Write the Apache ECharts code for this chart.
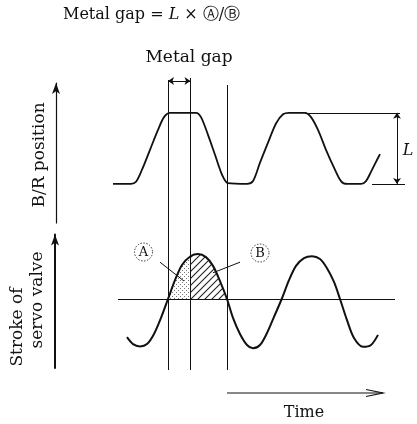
<!DOCTYPE html>
<html>
<head>
<meta charset="utf-8">
<script src="https://cdn.jsdelivr.net/npm/echarts@6/dist/echarts.min.js"></script>
<style>
  html, body { margin: 0; padding: 0; background: #fff; }
  #chart { width: 417px; height: 424px; }
</style>
</head>
<body>
<div id="chart"></div>
<script>
// time runs 0..300 on a shared (hidden) axis
const brTime = [3, 21, 26, 32, 40, 48, 54, 60, 86, 91, 98, 105, 112, 118, 137, 143, 150, 158, 166, 173, 179, 195, 201, 208, 216, 224, 231, 237, 251, 256, 261, 266, 270];
const brPos  = [0, 0, 0.3, 2.0, 4.8, 7.6, 9.4, 10, 10, 9.4, 6.9, 4.1, 1.3, 0.1, 0, 0.4, 3.0, 5.8, 8.5, 9.8, 10, 10, 9.4, 7.6, 4.8, 2.3, 0.4, 0, 0, 0.4, 1.7, 3.1, 4.2];

const svTime   = [17, 23, 30, 37, 44, 51, 58, 65, 72, 80.5, 88, 96, 103, 110, 117, 123, 130, 137, 143, 150, 157, 164, 171.7, 179, 186, 194, 202, 210, 217, 224, 230, 237, 244, 253, 261, 268];
const svStroke = [-8.3, -9.8, -10.3, -9.8, -7.6, -4.1, 0, 4.1, 7.4, 9.3, 9.8, 9.1, 7.2, 3.9, 0, -4.1, -7.6, -10.0, -10.7, -10.0, -7.4, -3.9, 0, 4.1, 7.2, 8.9, 9.3, 8.7, 6.7, 3.7, 0, -4.6, -8.5, -10.4, -10.0, -7.8];

// vertical guide lines (time) and how far up they reach (fraction of height)
const gapTimes = [58, 80.5, 117];
const gapTops = [0.993, 1, 0.976];
const gapArrowLevel = 0.99;

// region A: first zero crossing -> middle line, region B: middle line -> next crossing
const areaA = [58, 80.5];
const areaB = [80.5, 117];

// annotations
const zeroLine = [8, 285];
const lTopLine = [195, 290];
const lBottomLine = [262, 295];
const lArrowTime = 287;
const lLow = 0, lHigh = 10;
const leaderA = [[50, 8.0], [74, 3.9]];
const leaderB = [[130, 8.0], [103, 5.7]];

const serif = '"DejaVu Serif", "Liberation Serif", serif';
const ink = '#111';

const brData = brTime.map((t, i) => [t, brPos[i]]);
const svData = svTime.map((t, i) => [t, svStroke[i]]);
const sliceSv = (r) => svData.filter(d => d[0] >= r[0] && d[0] <= r[1]);

function makePattern(kind) {
  const c = document.createElement('canvas');
  const ctx = c.getContext('2d');
  if (kind === 'dots') {
    c.width = 4; c.height = 4;
    ctx.fillStyle = '#777';
    ctx.fillRect(0, 0, 1, 1);
    ctx.fillRect(2, 2, 1, 1);
  } else {
    c.width = 7; c.height = 7;
    ctx.strokeStyle = '#222';
    ctx.lineWidth = 1.1;
    ctx.beginPath();
    ctx.moveTo(-1, 8); ctx.lineTo(8, -1);
    ctx.moveTo(-1, 1); ctx.lineTo(1, -1);
    ctx.moveTo(6, 8); ctx.lineTo(8, 6);
    ctx.stroke();
  }
  return { image: c, repeat: 'repeat' };
}

const plainLine = (color, width) => ({ color: color, width: width, type: 'solid' });
const mark = (pairs, width) => ({
  silent: true,
  symbol: 'none',
  animation: false,
  label: { show: false },
  emphasis: { disabled: true },
  lineStyle: plainLine(ink, width),
  data: pairs.map(p => [{ coord: p[0] }, { coord: p[1] }])
});

const myChart = echarts.init(document.getElementById('chart'));

const option = {
  animation: false,
  grid: [
    { left: 110, right: 7, top: 83, height: 140 },
    { left: 110, right: 7, top: 234.6, height: 133.4 },
    { left: 110, right: 7, top: 78, height: 292 }
  ],
  xAxis: [0, 1, 2].map(i => ({ type: 'value', gridIndex: i, min: 0, max: 300, show: false })),
  yAxis: [
    {
      type: 'value', gridIndex: 0, min: -5.5, max: 14.2, offset: 54,
      axisLine: { show: true, onZero: false, symbol: ['none', 'arrow'], symbolSize: [6, 11], lineStyle: { color: ink, width: 1.2 } },
      axisTick: { show: false }, axisLabel: { show: false }, splitLine: { show: false }
    },
    {
      type: 'value', gridIndex: 1, min: -15, max: 14, offset: 55,
      axisLine: { show: true, onZero: false, symbol: ['none', 'arrow'], symbolSize: [6, 11], lineStyle: { color: ink, width: 2 } },
      axisTick: { show: false }, axisLabel: { show: false }, splitLine: { show: false }
    },
    { type: 'value', gridIndex: 2, min: 0, max: 1, show: false }
  ],
  series: [
    {
      name: 'B/R position',
      type: 'line', xAxisIndex: 0, yAxisIndex: 0,
      data: brData, smooth: 0.3, symbol: 'none', clip: false,
      lineStyle: { color: ink, width: 1.8 },
      markLine: mark([
        [[lTopLine[0], lHigh], [lTopLine[1], lHigh]],
        [[lBottomLine[0], lLow], [lBottomLine[1], lLow]]
      ], 1)
    },
    {
      name: 'L arrow',
      type: 'line', xAxisIndex: 0, yAxisIndex: 0,
      data: [], symbol: 'none',
      markLine: Object.assign(mark([[[lArrowTime, lLow], [lArrowTime, lHigh]]], 1), { symbol: ['arrow', 'arrow'], symbolSize: 6 })
    },
    {
      name: 'A',
      type: 'line', xAxisIndex: 1, yAxisIndex: 1,
      data: sliceSv(areaA), smooth: 0.3, symbol: 'none',
      lineStyle: { width: 0 },
      areaStyle: { color: makePattern('dots'), opacity: 1 },
      z: 1
    },
    {
      name: 'B',
      type: 'line', xAxisIndex: 1, yAxisIndex: 1,
      data: sliceSv(areaB), smooth: 0.3, symbol: 'none',
      lineStyle: { width: 0 },
      areaStyle: { color: makePattern('hatch'), opacity: 1 },
      z: 1
    },
    {
      name: 'Stroke of servo valve',
      type: 'line', xAxisIndex: 1, yAxisIndex: 1,
      data: svData, smooth: 0.3, symbol: 'none', clip: false,
      lineStyle: { color: ink, width: 2 },
      z: 3,
      markLine: mark([
        [[zeroLine[0], 0], [zeroLine[1], 0]],
        leaderA,
        leaderB
      ], 1)
    },
    {
      name: 'guides',
      type: 'line', xAxisIndex: 2, yAxisIndex: 2,
      data: [], symbol: 'none',
      markLine: mark(gapTimes.map((t, i) => [[t, 0], [t, gapTops[i]]]), 1)
    },
    {
      name: 'gap arrow',
      type: 'line', xAxisIndex: 2, yAxisIndex: 2,
      data: [], symbol: 'none',
      markLine: Object.assign(mark([[[gapTimes[0], gapArrowLevel], [gapTimes[1], gapArrowLevel]]], 1), { symbol: ['arrow', 'arrow'], symbolSize: 6 })
    }
  ],
  graphic: [
    {
      type: 'text', x: 63, y: 15,
      style: {
        text: 'Metal gap = {i|L} × Ⓐ/Ⓑ',
        font: '16px ' + serif, fill: ink, verticalAlign: 'middle',
        rich: { i: { fontStyle: 'italic', fontSize: 16, fontFamily: serif, fill: ink } }
      }
    },
    {
      type: 'text', x: 189, y: 58,
      style: { text: 'Metal gap', font: '17px ' + serif, fill: ink, align: 'center', verticalAlign: 'middle' }
    },
    {
      type: 'text', x: 40, y: 155, rotation: Math.PI / 2,
      style: { text: 'B/R position', font: '17px ' + serif, fill: ink, align: 'center', verticalAlign: 'middle' }
    },
    {
      type: 'text', x: 17.5, y: 327, rotation: Math.PI / 2,
      style: { text: 'Stroke of', font: '17px ' + serif, fill: ink, align: 'center', verticalAlign: 'middle' }
    },
    {
      type: 'text', x: 37.5, y: 300, rotation: Math.PI / 2,
      style: { text: 'servo valve', font: '17px ' + serif, fill: ink, align: 'center', verticalAlign: 'middle' }
    },
    {
      type: 'text', x: 408, y: 151,
      style: { text: 'L', font: 'italic 16px ' + serif, fill: ink, align: 'center', verticalAlign: 'middle' }
    },
    {
      type: 'group', x: 143.5, y: 252,
      children: [
        { type: 'circle', shape: { cx: 0, cy: 0, r: 9 }, style: { fill: 'none', stroke: '#333', lineWidth: 1, lineDash: [1.5, 1.5] } },
        { type: 'text', style: { text: 'A', x: 0, y: 0.5, font: '13px ' + serif, fill: ink, align: 'center', verticalAlign: 'middle' } }
      ]
    },
    {
      type: 'group', x: 260, y: 253,
      children: [
        { type: 'circle', shape: { cx: 0, cy: 0, r: 9 }, style: { fill: 'none', stroke: '#333', lineWidth: 1, lineDash: [1.5, 1.5] } },
        { type: 'text', style: { text: 'B', x: 0, y: 0.5, font: '13px ' + serif, fill: ink, align: 'center', verticalAlign: 'middle' } }
      ]
    },
    {
      type: 'line', shape: { x1: 227, y1: 393, x2: 383, y2: 393 },
      style: { stroke: ink, lineWidth: 1.2 }
    },
    {
      type: 'polyline', shape: { points: [[366, 389.5], [383, 393], [366, 396.5]] },
      style: { stroke: ink, lineWidth: 1.2, fill: 'none' }
    },
    {
      type: 'text', x: 304, y: 413,
      style: { text: 'Time', font: '16px ' + serif, fill: ink, align: 'center', verticalAlign: 'middle' }
    }
  ]
};

myChart.setOption(option);

window.addEventListener('resize', () => {
  myChart.resize();
});
</script>
</body>
</html>
